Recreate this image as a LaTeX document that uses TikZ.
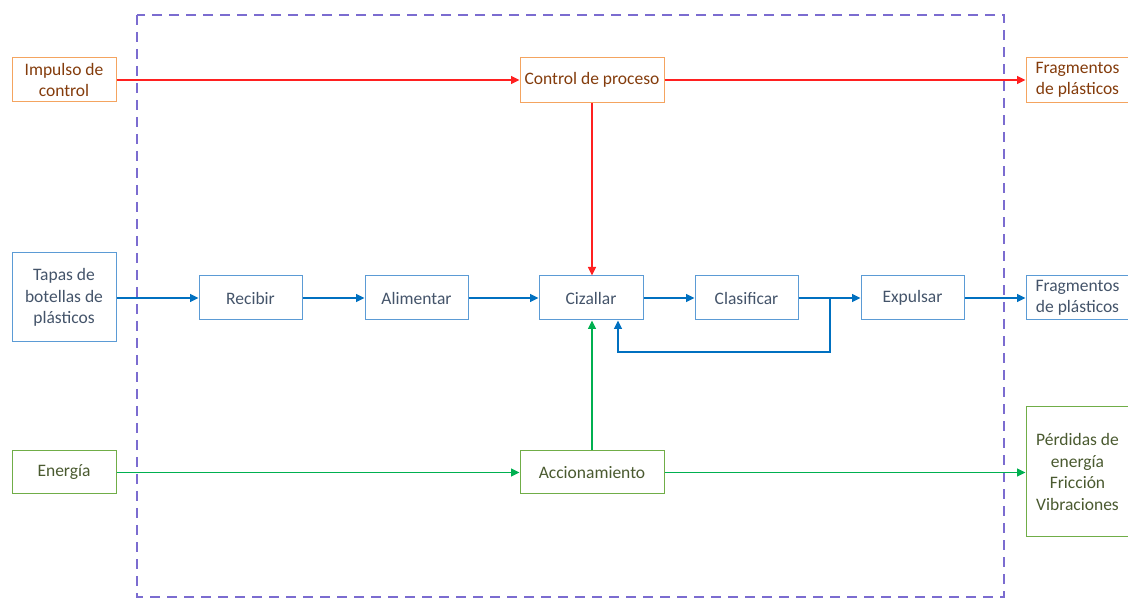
\documentclass[tikz,border=0pt]{standalone}
\usepackage{fontspec}
\setmainfont{Carlito}
\usetikzlibrary{arrows.meta}
\definecolor{obord}{HTML}{F4A460}
\definecolor{otext}{HTML}{843C0C}
\definecolor{bbord}{HTML}{5B9BD5}
\definecolor{btext}{HTML}{44546A}
\definecolor{gbord}{HTML}{70AD47}
\definecolor{gtext}{HTML}{4A5A30}
\definecolor{rline}{HTML}{FF2020}
\definecolor{bline}{HTML}{0070C0}
\definecolor{gline}{HTML}{00B050}
\definecolor{pdash}{HTML}{7B6CD0}
\tikzset{
  box/.style={draw, line width=1pt, fill=white, align=center, inner sep=0pt,
    font=\fontsize{17.5}{21.5}\selectfont},
  obox/.style={box, draw=obord, text=otext},
  bluebox/.style={box, draw=bbord, text=btext},
  greenbox/.style={box, draw=gbord, text=gtext},
  arr/.style={line width=1.3pt, -{Triangle[length=8.5pt,width=8pt]}},
  rarr/.style={arr, draw=rline, color=rline},
  barr/.style={arr, draw=bline, color=bline},
  garr/.style={arr, draw=gline, color=gline},
}
\begin{document}
\begin{tikzpicture}[x=1pt,y=-1pt]
\useasboundingbox (0,0) rectangle (1128,601);
\draw[pdash, line width=1.1pt, dash pattern=on 10pt off 7pt] (137,15) rectangle (1004,597);
% orange row
\node[obox, minimum width=104pt, minimum height=44pt] (imp) at (64,80) {Impulso de\\control};
\node[obox, minimum width=144pt, minimum height=45pt] (ctrl) at (592,80) {Control de proceso};
\node[obox, minimum width=103pt, minimum height=45pt] (frag1) at (1077.5,80) {Fragmentos\\de plásticos};
% blue row
\node[bluebox, minimum width=104pt, minimum height=89pt] (tapas) at (64,297.5) {Tapas de\\botellas de\\plásticos};
\node[bluebox, minimum width=103pt, minimum height=44pt] (rec) at (250.5,298) {Recibir};
\node[bluebox, minimum width=103pt, minimum height=44pt] (ali) at (416.5,298) {Alimentar};
\node[bluebox, minimum width=104pt, minimum height=44pt] (ciz) at (591,298) {Cizallar};
\node[bluebox, minimum width=103pt, minimum height=44pt] (cla) at (746.5,298) {Clasificar};
\node[bluebox, minimum width=103pt, minimum height=44pt] (exp) at (912.5,298) {Expulsar};
\node[bluebox, minimum width=103pt, minimum height=44pt] (frag2) at (1077.5,298) {Fragmentos\\de plásticos};
% green row
\node[greenbox, minimum width=104pt, minimum height=43pt] (ene) at (64,472.5) {Energía};
\node[greenbox, minimum width=144pt, minimum height=43pt] (acc) at (592,472.5) {Accionamiento};
\node[greenbox, minimum width=103pt, minimum height=130pt] (per) at (1077.5,472) {Pérdidas de\\energía\\Fricción\\Vibraciones};
\coordinate (br) at (830,298);
\coordinate (bd) at (830,352);
\coordinate (bl) at (618,352);
% red connectors
\draw[rarr] (imp.east) -- (ctrl.west);
\draw[rarr] (ctrl.east) -- (frag1.west);
\draw[rarr] (ctrl.south) -- (ciz.north -| ctrl.south);
% blue connectors
\draw[barr] (tapas.east |- rec.west) -- (rec.west);
\draw[barr] (rec.east) -- (ali.west);
\draw[barr] (ali.east) -- (ciz.west);
\draw[barr] (ciz.east) -- (cla.west);
\draw[barr] (cla.east) -- (exp.west);
\draw[barr] (exp.east) -- (frag2.west);
\draw[barr] (br) -- (bd) -- (bl) -- (bl |- ciz.south);
% green connectors
\draw[garr] (ene.east) -- (acc.west);
\draw[garr] (acc.east) -- (per.west |- acc.east);
\draw[garr] (acc.north) -- (acc.north |- ciz.south);
\end{tikzpicture}
\end{document}
